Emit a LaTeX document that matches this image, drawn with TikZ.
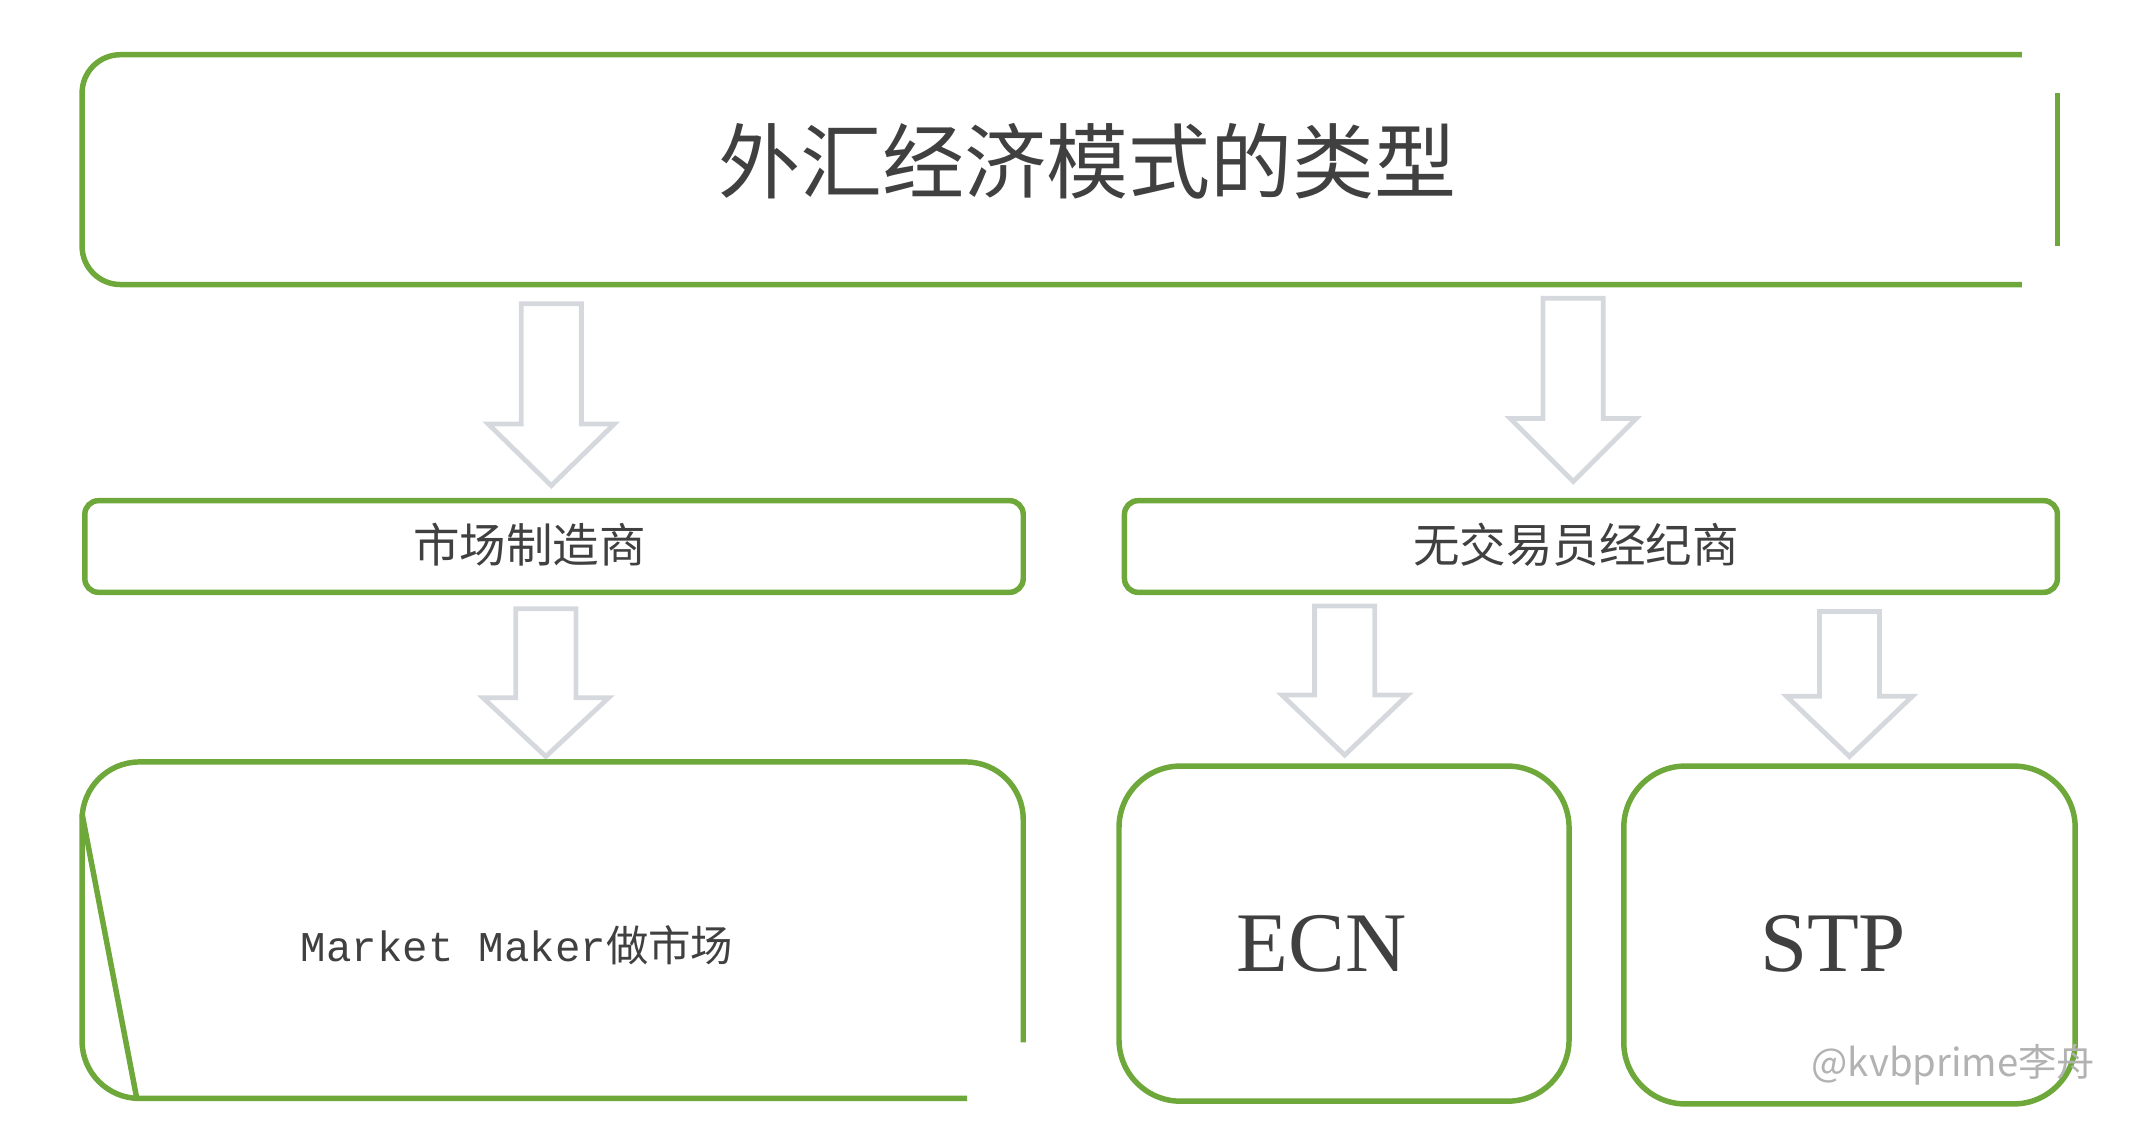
\documentclass[tikz,border=0pt]{standalone}
\usepackage{fontspec}
\newfontfamily\cjk{Noto Sans CJK SC}
\newfontfamily\mono{Liberation Mono}
\newfontfamily\serif{Liberation Serif}
\definecolor{grn}{HTML}{6EA83A}
\definecolor{arr}{HTML}{D5D9DD}
\definecolor{txt}{HTML}{404040}
\begin{document}
\begin{tikzpicture}[x=1pt,y=-1pt,
  gline/.style={draw=grn,line width=4pt},
  barrow/.style={draw=arr,line width=3.5pt,line join=miter},
  lbl/.style={text=txt,inner sep=0}]
\useasboundingbox (0,0) rectangle (1560,826);
% title box
\draw[gline,rounded corners=28pt] (1478,40) -- (60,40) -- (60,208) -- (1478,208);
\draw[gline] (1504,68) -- (1504,180);
\node[lbl,font=\cjk\fontsize{60}{60}\selectfont] (title) at (795,118) {外汇经济模式的类型};
% arrows
\newcommand\barr[5]{\draw[barrow] (#1-#2,#3) -- (#1+#2,#3) -- (#1+#2,#4) -- (#1+46,#4) -- (#1,#5) -- (#1-46,#4) -- (#1-#2,#4) -- cycle;}
\barr{403}{22}{222}{310}{355}
\barr{1150}{22}{218}{306}{352}
\barr{399}{22}{445}{510}{553}
\barr{983}{22}{443}{508}{552}
\barr{1352}{22}{447}{509}{553}
% middle boxes
\draw[gline,rounded corners=10pt] (62,366) rectangle (748,433);
\node[lbl,font=\cjk\fontsize{34}{34}\selectfont] (mm) at (387,398) {市场制造商};
\draw[gline,rounded corners=10pt] (822,366) rectangle (1504,433);
\node[lbl,font=\cjk\fontsize{34}{34}\selectfont] (nd) at (1152,398) {无交易员经纪商};
% market maker box
\draw[gline,rounded corners=42pt] (748,762) -- (748,557) -- (60,557) -- (60,803) -- (707,803);
\draw[gline] (60,595) -- (100,803);
\node[lbl,font=\mono\fontsize{31}{31}\selectfont] (mmt) at (378,691) {Market Maker{\cjk 做市场}};
% ECN STP
\draw[gline,rounded corners=45pt] (818,560) rectangle (1147,805);
\node[lbl,font=\serif\fontsize{62}{62}\selectfont] (ecn) at (966,690) {ECN};
\draw[gline,rounded corners=45pt] (1187,560) rectangle (1517,807);
\node[lbl,font=\serif\fontsize{62}{62}\selectfont] (stp) at (1340,690) {STP};
\node[text=gray!60,font=\cjk\fontsize{28}{28}\selectfont,inner sep=0] (wm) at (1428,778) {@kvbprime李舟};
\end{tikzpicture}
\end{document}
